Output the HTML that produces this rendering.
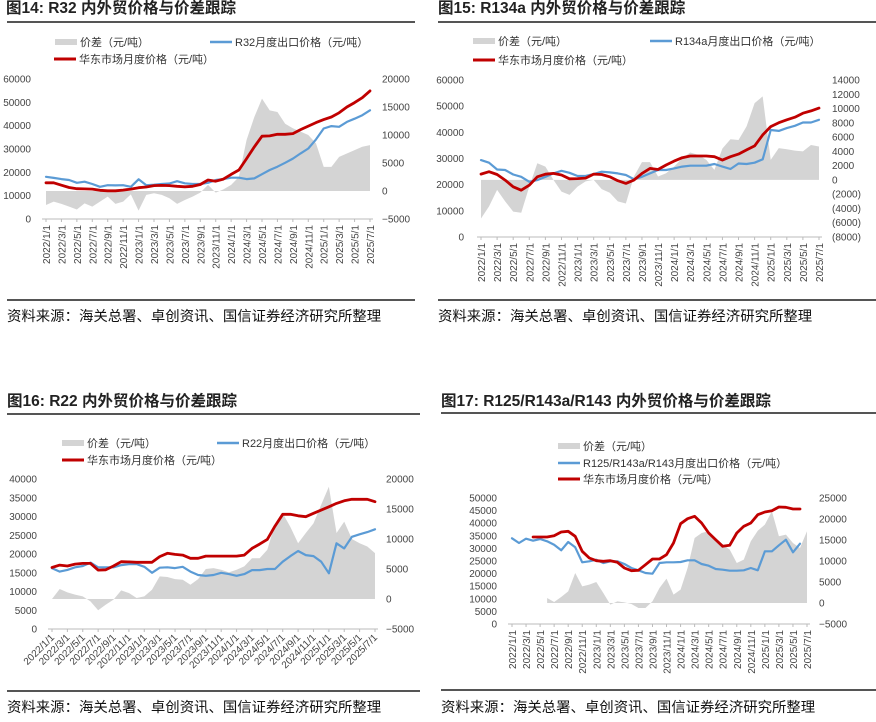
<!DOCTYPE html>
<html><head><meta charset="utf-8">
<style>
html,body{margin:0;padding:0;background:#fff;}
svg{display:block;font-family:"Liberation Sans","Noto Sans CJK SC",sans-serif;}
.t{font-size:15.5px;font-weight:bold;fill:#222;}
.f{font-size:14.4px;fill:#111;}
.lg{font-size:11px;fill:#333;}
.ax{font-size:10px;fill:#444;}
</style></head>
<body>
<svg id="root" width="876" height="722" viewBox="0 0 876 722" xmlns="http://www.w3.org/2000/svg">
<text class="t" x="6" y="13">图14: R32 内外贸价格与价差跟踪</text>
<line x1="7" y1="22" x2="415" y2="22" stroke="#555" stroke-width="2"/>
<line x1="7" y1="300" x2="415" y2="300" stroke="#555" stroke-width="2"/>
<text class="f" x="7" y="321">资料来源：海关总署、卓创资讯、国信证券经济研究所整理</text>

<text class="t" x="438" y="13">图15: R134a 内外贸价格与价差跟踪</text>
<line x1="438" y1="22" x2="876" y2="22" stroke="#555" stroke-width="2"/>
<line x1="438" y1="300" x2="876" y2="300" stroke="#555" stroke-width="2"/>
<text class="f" x="438" y="321">资料来源：海关总署、卓创资讯、国信证券经济研究所整理</text>

<text class="t" x="7" y="406">图16: R22 内外贸价格与价差跟踪</text>
<line x1="7" y1="414" x2="420" y2="414" stroke="#555" stroke-width="2"/>
<line x1="7" y1="691" x2="420" y2="691" stroke="#555" stroke-width="2"/>
<text class="f" x="7" y="712">资料来源：海关总署、卓创资讯、国信证券经济研究所整理</text>

<text class="t" x="441" y="406">图17: R125/R143a/R143 内外贸价格与价差跟踪</text>
<line x1="441" y1="413" x2="876" y2="413" stroke="#555" stroke-width="2"/>
<line x1="441" y1="690" x2="876" y2="690" stroke="#555" stroke-width="2"/>
<text class="f" x="441" y="712">资料来源：海关总署、卓创资讯、国信证券经济研究所整理</text>
</svg>
<script>
const tickLabels = ['2022/1/1','2022/3/1','2022/5/1','2022/7/1','2022/9/1','2022/11/1','2023/1/1','2023/3/1','2023/5/1','2023/7/1','2023/9/1','2023/11/1','2024/1/1','2024/3/1','2024/5/1','2024/7/1','2024/9/1','2024/11/1','2025/1/1','2025/3/1','2025/5/1','2025/7/1'];
const monthCount = 43;

// Fig14 R32
const r32Domestic = [15500,15500,14500,13500,13000,12900,12800,12300,12100,12100,12400,12800,13400,13700,14300,14400,14300,14000,13800,14000,14800,16700,16200,17100,19100,21000,25900,30900,35500,35600,36300,36300,36600,38300,39800,41300,42600,43700,45500,48000,49900,52000,54900];
const r32Export = [18100,17600,17100,16700,15500,16000,15000,13800,14500,14400,14500,13800,17000,14500,14700,15000,15200,16200,15300,15000,15000,15500,16700,17100,17700,17700,17100,17400,19200,21000,22400,24100,25900,28100,30200,34100,38800,39800,39500,41600,43000,44500,46600];
const r32Spread = [-2500,-1900,-2300,-2800,-3300,-2200,-2800,-1900,-1000,-2300,-1900,-600,-3500,-700,-400,-700,-1300,-2300,-1600,-1000,-300,1100,-300,300,1100,2500,9100,13200,16500,14400,14100,12000,11200,10600,10000,8500,4300,4300,6100,6700,7300,7900,8200];
const r32LeftTicks = [0,10000,20000,30000,40000,50000,60000];
const r32RightTicks = [-5000,0,5000,10000,15000,20000];

// Fig15 R134a
const r134aDomestic = [24050,24950,23900,21750,19200,17900,19800,23000,24000,24300,23700,22250,22300,22500,24050,23900,23000,21500,20500,21750,24300,26200,25800,27500,29000,30300,30950,30950,30950,30700,29400,30700,31700,33300,34800,39000,42200,43700,44800,45800,47300,48200,49250];
const r134aExport = [29400,28400,25800,25600,23900,23000,21100,21750,23000,24300,25300,24550,23300,23300,24050,24950,24700,24300,23700,22100,23000,24300,25600,25600,26200,26900,27250,27250,27250,27900,26900,26000,28100,27900,28400,29700,40900,40550,41600,42500,43750,43750,44800];
const r134aSpread = [-5400,-3700,-1400,-3000,-4450,-4600,-940,2340,1870,0,-1640,-2100,-940,-200,0,-1300,-1800,-3000,-3300,470,2500,2500,470,940,1870,3040,3840,3500,2800,1400,4400,5700,5600,7500,10760,11700,2800,4450,4300,4100,4000,4900,4680];
const r134aLeftTicks = [0,10000,20000,30000,40000,50000,60000];
const r134aRightTicks = [-8000,-6000,-4000,-2000,0,2000,4000,6000,8000,10000,12000,14000];

// Fig16 R22
const r22Domestic = [16400,17050,16800,17300,17500,17500,15700,15800,16800,17950,17900,17800,17800,17800,19300,20200,19900,19700,18850,18850,19450,19450,19450,19450,19450,19700,21500,22650,23900,27450,30600,30600,30200,29950,30850,31700,32600,33500,34200,34600,34600,34600,33950];
const r22Export = [16200,15300,15750,16450,16800,17700,16450,16450,16450,17050,17300,17300,16600,15000,16350,16450,16250,16600,15300,14400,14200,14400,15000,14650,14200,14650,15700,15700,16000,16000,17950,19450,20800,19700,19450,17950,14850,22850,21500,24600,25250,25850,26600];
const r22Spread = [0,1660,1100,720,440,-390,-1880,-940,-110,1440,1000,170,440,1550,3770,3660,3320,3200,2380,3320,4990,5150,4880,4430,4880,5430,6800,6800,8200,12500,14300,12000,9300,11000,12600,15700,18700,11000,12900,10000,9300,8750,7650];
const r22LeftTicks = [0,5000,10000,15000,20000,25000,30000,35000,40000];
const r22RightTicks = [-5000,0,5000,10000,15000,20000];

// Fig17 R125/R143a/R143
const r125Domestic = [null,null,null,34530,34530,34530,35050,36500,36770,34790,28840,26190,25130,24870,25130,24470,22220,21160,21300,23550,25800,25800,27510,32140,39810,41800,42730,40080,36110,33470,30820,31220,36110,38760,40080,43390,44440,44970,46430,46300,45630,45630,null];
const r125Export = [34000,32140,33860,33070,33730,32800,31480,29230,32540,30420,24470,24870,25530,24200,24870,24870,23800,22220,21300,20240,19970,24200,24470,24470,24600,25260,25260,23800,23150,21830,21560,21160,21160,21300,22220,21300,28840,28840,31220,33470,28440,31880,null];
const r125Spread = [null,null,null,null,null,1190,240,1430,2780,7150,3970,4370,5000,2380,-400,400,160,-240,-1190,-1190,400,3570,5800,1990,3180,8340,15480,16670,17070,15090,13900,12700,9530,10320,14690,17230,18660,21840,15880,16280,14290,13100,17070];
const r125LeftTicks = [0,5000,10000,15000,20000,25000,30000,35000,40000,45000,50000];
const r125RightTicks = [-5000,0,5000,10000,15000,20000,25000];

const NS = 'http://www.w3.org/2000/svg';
const root = document.getElementById('root');
function mk(tag, attrs, parent){
  const e = document.createElementNS(NS, tag);
  for (const k in attrs) e.setAttribute(k, attrs[k]);
  (parent||root).appendChild(e);
  return e;
}

function drawChart(cfg){
  const g = mk('g', {});
  
  
  const xs = i => cfg.x0 + i*(cfg.x1-cfg.x0)/(monthCount-1);
  const yL = v => cfg.yBot + (v-cfg.lMin)/(cfg.lMax-cfg.lMin)*(cfg.yTop-cfg.yBot);
  const yR = v => cfg.yBot + (v-cfg.rMin)/(cfg.rMax-cfg.rMin)*(cfg.yTop-cfg.yBot);

  const sp = cfg.spread;
  let first = sp.findIndex(v=>v!==null), last = sp.length-1;
  while (sp[last]===null) last--;
  let pts = xs(first)+','+yR(0)+' ';
  for (let i=first;i<=last;i++) pts += xs(i)+','+yR(sp[i])+' ';
  pts += xs(last)+','+yR(0);
  const area = mk('polygon', {points:pts, fill:'#d4d4d4', stroke:'none'}, g);
  
  

  function line(arr, color, w, nm){
    let d = '', pen = false;
    arr.forEach((v,i)=>{
      if (v===null){ pen=false; return; }
      d += (pen?'L':'M') + xs(i).toFixed(1) + ' ' + yL(v).toFixed(1) + ' ';
      pen = true;
    });
    const p = mk('path', {d:d, fill:'none', stroke:color, 'stroke-width':w, 'stroke-linejoin':'round', 'stroke-linecap':'round'}, g);
    
    
  }
  line(cfg.exportLine, '#5b9bd5', 2.2, 'export-price-line');
  line(cfg.domesticLine, '#c00000', 2.8, 'domestic-price-line');

  const axl = mk('line', {x1:cfg.axL, x2:cfg.axR, y1:cfg.yBot, y2:cfg.yBot, stroke:'#bbb', 'stroke-width':1}, g);
  
  
  for (let i=0;i<monthCount;i+=2){
    mk('line', {x1:xs(i), x2:xs(i), y1:cfg.yBot, y2:cfg.yBot+3, stroke:'#bbb', 'stroke-width':1}, g);
  }
  tickLabels.forEach((lb,k)=>{
    const x = xs(k*2);
    let t;
    if (cfg.rot45){
      t = mk('text', {class:'ax', x:x+3, y:cfg.yBot+9, 'text-anchor':'end', transform:'rotate(-45 '+(x+3)+' '+(cfg.yBot+9)+')'}, g);
    } else {
      t = mk('text', {class:'ax', x:x+4, y:cfg.yBot+6, 'text-anchor':'end', transform:'rotate(-90 '+(x+4)+' '+(cfg.yBot+6)+')'}, g);
    }
    t.textContent = lb;
    
    
  });
  cfg.leftTicks.forEach(v=>{
    const t = mk('text', {class:'ax', x:cfg.lLabX, y:yL(v)+3.5, 'text-anchor':'end'}, g);
    t.textContent = String(v);
    
    
  });
  cfg.rightTicks.forEach(v=>{
    const neg = cfg.redNeg && v<0;
    const t = mk('text', {class:'ax', x:cfg.rLabX, y:yR(v)+3.5, 'text-anchor':'start'}, g);
    if (neg) t.setAttribute('fill', '#e03030');
    t.textContent = neg ? '('+(-v)+')' : (v<0 ? '−'+(-v) : String(v));
    
    
  });

  cfg.legend.forEach(L=>{
    const s = mk('line', {x1:L.sx, x2:L.sx+22, y1:L.y, y2:L.y, stroke:L.color, 'stroke-width':L.w}, g);
    
    
    const t = mk('text', {class:'lg', x:L.sx+25, y:L.y+4}, g);
    t.textContent = L.text;
    
    
  });
}

drawChart({name:'chart-r32', x0:46, x1:370, axL:42, axR:373, yTop:79, yBot:219,
  lMin:0, lMax:60000, rMin:-5000, rMax:20000, lLabX:31, rLabX:382,
  domesticLine:r32Domestic, exportLine:r32Export, spread:r32Spread,
  leftTicks:r32LeftTicks, rightTicks:r32RightTicks,
  legend:[{sx:55,y:42,color:'#d4d4d4',w:6,text:'价差（元/吨）'},
          {sx:210,y:42,color:'#5b9bd5',w:2.5,text:'R32月度出口价格（元/吨）'},
          {sx:54,y:59,color:'#c00000',w:3,text:'华东市场月度价格（元/吨）'}]});

drawChart({name:'chart-r134a', x0:481, x1:819, axL:477, axR:822, yTop:80, yBot:237,
  lMin:0, lMax:60000, rMin:-8000, rMax:14000, lLabX:464, rLabX:832, redNeg:true,
  domesticLine:r134aDomestic, exportLine:r134aExport, spread:r134aSpread,
  leftTicks:r134aLeftTicks, rightTicks:r134aRightTicks,
  legend:[{sx:473,y:41,color:'#d4d4d4',w:6,text:'价差（元/吨）'},
          {sx:650,y:41,color:'#5b9bd5',w:2.5,text:'R134a月度出口价格（元/吨）'},
          {sx:473,y:60,color:'#c00000',w:3,text:'华东市场月度价格（元/吨）'}]});

drawChart({name:'chart-r22', x0:52, x1:375, axL:48, axR:378, yTop:479, yBot:629, rot45:true,
  lMin:0, lMax:40000, rMin:-5000, rMax:20000, lLabX:37, rLabX:386,
  domesticLine:r22Domestic, exportLine:r22Export, spread:r22Spread,
  leftTicks:r22LeftTicks, rightTicks:r22RightTicks,
  legend:[{sx:62,y:443,color:'#d4d4d4',w:6,text:'价差（元/吨）'},
          {sx:217,y:443,color:'#5b9bd5',w:2.5,text:'R22月度出口价格（元/吨）'},
          {sx:62,y:460,color:'#c00000',w:3,text:'华东市场月度价格（元/吨）'}]});

drawChart({name:'chart-r125', x0:512, x1:807, axL:508, axR:810, yTop:498, yBot:624,
  lMin:0, lMax:50000, rMin:-5000, rMax:25000, lLabX:497, rLabX:819,
  domesticLine:r125Domestic, exportLine:r125Export, spread:r125Spread,
  leftTicks:r125LeftTicks, rightTicks:r125RightTicks,
  legend:[{sx:558,y:446,color:'#d4d4d4',w:6,text:'价差（元/吨）'},
          {sx:558,y:463,color:'#5b9bd5',w:2.5,text:'R125/R143a/R143月度出口价格（元/吨）'},
          {sx:558,y:479,color:'#c00000',w:3,text:'华东市场月度价格（元/吨）'}]});
</script>
</body></html>
